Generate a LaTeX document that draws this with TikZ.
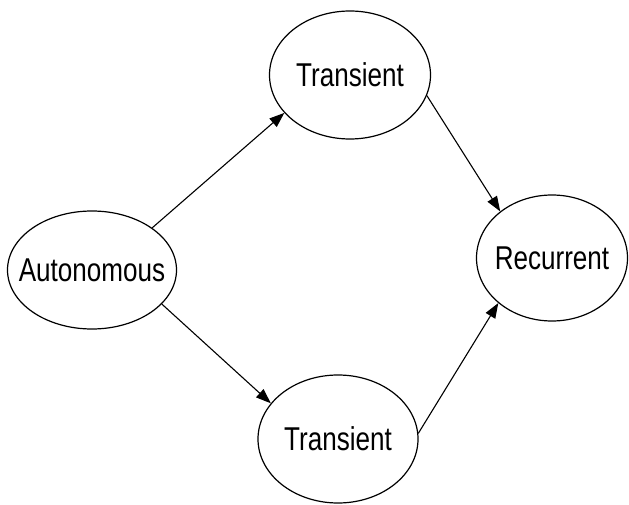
\documentclass[tikz,border=0pt]{standalone}
\usepackage{fontspec}
\setmainfont[FakeStretch=0.79]{Liberation Sans}
\usetikzlibrary{shapes.geometric,arrows.meta}
\tikzset{
  state/.style={ellipse, draw, line width=1.2pt, inner sep=0pt,
    label={[font=\fontsize{33}{36}\selectfont]center:#1}},
  flow/.style={line width=1.1pt, -{Triangle[length=15pt,width=11pt]}}
}
\begin{document}
\begin{tikzpicture}[x=1pt,y=-1pt]
  \useasboundingbox (0,0) rectangle (629,505);
  % states: outline size set explicitly, name shown as a centred label
  \node[state=Autonomous, minimum width=169pt, minimum height=118pt] (auto) at (92,270) {};
  \node[state=Transient, minimum width=161pt, minimum height=128pt] (ta) at (350,75) {};
  \node[state=Transient, minimum width=160pt, minimum height=128pt] (tb) at (338,439) {};
  \node[state=Recurrent, minimum width=151pt, minimum height=126pt] (rec) at (552,258) {};
  % transitions
  \draw[flow] (auto.35) -- (ta.210);
  \draw[flow] (auto.-26) -- (tb.152);
  \draw[flow] (ta.-15) -- (rec.138);
  \draw[flow] (tb.4) -- (rec.220);
\end{tikzpicture}
\end{document}
